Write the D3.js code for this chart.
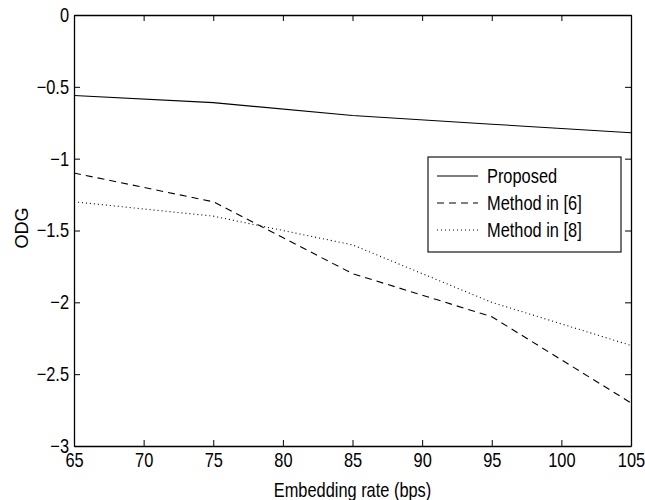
<!DOCTYPE html>
<html><head><meta charset="utf-8">
<script src="https://cdn.jsdelivr.net/npm/d3@7"></script>
<style>body{margin:0;background:#fff}svg{display:block;font-family:"Liberation Sans",Arial,sans-serif}</style>
</head><body>
<script>
const rates = [65, 75, 85, 95, 105];
const proposed = [-0.56, -0.61, -0.70, -0.76, -0.82];
const method6 = [-1.1, -1.3, -1.8, -2.1, -2.7];
const method8 = [-1.3, -1.4, -1.6, -2.0, -2.3];
const xTicks = [65, 70, 75, 80, 85, 90, 95, 100, 105];
const yTicks = [0, -0.5, -1, -1.5, -2, -2.5, -3];
const seriesNames = ["Proposed", "Method in [6]", "Method in [8]"];

const FONT = '"Liberation Sans",Arial,sans-serif';
const SX = 0.82;
const W = 645, H = 500;
const m = {l: 74, t: 15, r: 14, b: 54};
const svg = d3.select("body").append("svg").attr("width", W).attr("height", H);
const x = d3.scaleLinear().domain([65, 105]).range([m.l, W - m.r]);
const y = d3.scaleLinear().domain([-3, 0]).range([H - m.b, m.t]);
const fmt = v => (v < 0 ? "\u2212" : "") + Math.abs(v);

function narrow(sel){
  sel.each(function(){
    const t = d3.select(this);
    const xx = +t.attr("x") || 0;
    t.attr("x", xx / SX).attr("transform", (t.attr("transform") || "") + ` scale(${SX},1)`);
  });
}

const tl = 6;
const xb = d3.axisBottom(x).tickValues(xTicks).tickSizeInner(-tl).tickSizeOuter(0).tickPadding(7).tickFormat(fmt);
const xt = d3.axisTop(x).tickValues(xTicks).tickSizeInner(-tl).tickSizeOuter(0).tickFormat("");
const yl = d3.axisLeft(y).tickValues(yTicks).tickSizeInner(-tl).tickSizeOuter(0).tickPadding(5).tickFormat(fmt);
const yr = d3.axisRight(y).tickValues(yTicks).tickSizeInner(-tl).tickSizeOuter(0).tickFormat("");

function style(g){
  g.select(".domain").attr("stroke","#000").attr("stroke-width",1.3);
  g.selectAll(".tick line").attr("stroke","#000").attr("stroke-width",1);
  g.selectAll(".tick text").attr("fill","#000").attr("font-size",20).attr("font-family",FONT).call(narrow);
}
svg.append("g").attr("transform",`translate(0,${H-m.b})`).call(xb).call(style);
svg.append("g").attr("transform",`translate(0,${m.t})`).call(xt).call(style);
svg.append("g").attr("transform",`translate(${m.l},0)`).call(yl).call(style);
svg.append("g").attr("transform",`translate(${W-m.r},0)`).call(yr).call(style);

const line = d3.line().x((d,i)=>x(rates[i])).y(d=>y(d));
const dashes = [null, "7,5", "1,3"];
[proposed, method6, method8].forEach((s,k)=>{
  svg.append("path").datum(s).attr("d",line).attr("fill","none").attr("stroke","#000")
    .attr("stroke-width",1.1).attr("stroke-dasharray",dashes[k]);
});

// legend
const lg = svg.append("g");
lg.append("rect").attr("x",428).attr("y",157).attr("width",193).attr("height",95)
  .attr("fill","#fff").attr("stroke","#000").attr("stroke-width",1.1);
seriesNames.forEach((n,k)=>{
  const yy = 176 + k*27;
  lg.append("line").attr("x1",437).attr("x2",478).attr("y1",yy).attr("y2",yy)
    .attr("stroke","#000").attr("stroke-width",1.1).attr("stroke-dasharray",dashes[k]);
  lg.append("text").attr("x",487).attr("y",yy).attr("dy","0.36em").attr("font-size",20).attr("font-family",FONT).text(n).call(narrow);
});

svg.append("text").attr("x",(m.l+W-m.r)/2).attr("y",497).attr("text-anchor","middle").attr("font-size",20).attr("font-family",FONT).text("Embedding rate (bps)").call(narrow);
svg.append("text").attr("transform",`translate(28,228) rotate(-90)`).attr("text-anchor","middle").attr("font-size",18).attr("font-family",FONT).text("ODG");
</script>
</body></html>
